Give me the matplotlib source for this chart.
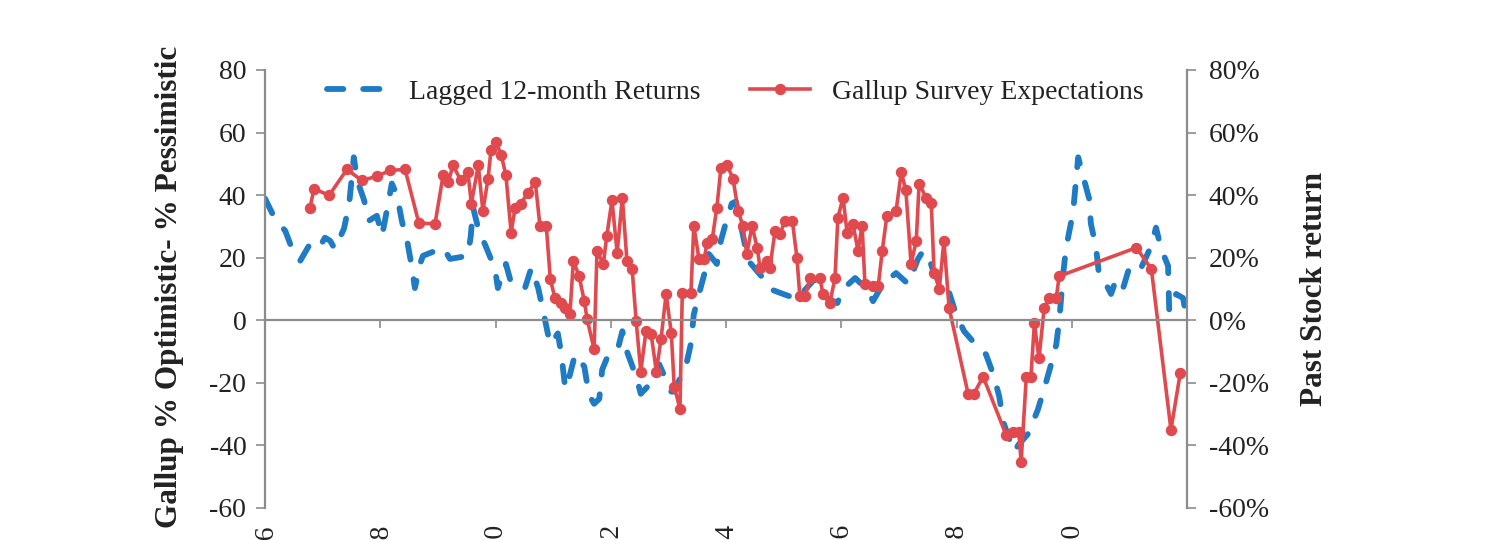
import matplotlib
matplotlib.use("Agg")
import matplotlib.pyplot as plt
import matplotlib.ticker as ticker

plt.rcParams['font.family'] = ['Liberation Serif', 'DejaVu Serif']
plt.rcParams['axes.unicode_minus'] = False

# lagged 12-month stock returns (%), decimal years
ret_x = [1996.00, 1996.17, 1996.35, 1996.47, 1996.61, 1996.78, 1996.94, 1997.04, 1997.13,
         1997.21, 1997.37, 1997.46, 1997.54, 1997.60, 1997.72, 1997.80, 1997.94, 1998.03,
         1998.12, 1998.20, 1998.29, 1998.38, 1998.46, 1998.55, 1998.60, 1998.69, 1998.74,
         1999.09, 1999.21, 1999.52, 1999.57, 1999.61, 1999.70, 1999.84, 1999.99, 2000.04,
         2000.18, 2000.27, 2000.51, 2000.62, 2000.74, 2000.82, 2000.91, 2000.96, 2001.08,
         2001.14, 2001.21, 2001.29, 2001.38, 2001.54, 2001.62, 2001.71, 2001.80, 2001.85,
         2001.93, 2002.11, 2002.20, 2002.28, 2002.44, 2002.52, 2002.72, 2002.84, 2003.05,
         2003.10, 2003.31, 2003.39, 2003.44, 2003.53, 2003.65, 2003.70, 2003.84, 2003.91,
         2004.02, 2004.10, 2004.17, 2004.36, 2004.42, 2004.64, 2004.76, 2004.99, 2005.23,
         2005.46, 2005.54, 2005.75, 2005.93, 2006.03, 2006.24, 2006.33, 2006.45, 2006.55,
         2006.72, 2006.95, 2007.16, 2007.33, 2007.42, 2007.51, 2007.61, 2007.73, 2007.82,
         2007.99, 2008.13, 2008.39, 2008.51, 2008.65, 2008.74, 2008.81, 2008.89, 2009.00,
         2009.07, 2009.24, 2009.41, 2009.52, 2009.64, 2009.73, 2009.78, 2009.85, 2009.90,
         2010.02, 2010.11, 2010.20, 2010.30, 2010.33, 2010.42, 2010.47, 2010.59, 2010.68,
         2010.77, 2010.89, 2010.99, 2011.15, 2011.20, 2011.38, 2011.46, 2011.55, 2011.67,
         2011.69, 2011.81, 2011.93, 2011.98]
ret_y = [38.9, 32.5, 28.6, 22.8, 19.0, 24.4, 23.2, 26.4, 25.4,
         22.8, 29.3, 37.3, 52.1, 44.7, 38.3, 31.8, 33.4, 27.0,
         35.7, 43.7, 39.9, 31.2, 26.0, 16.7, 10.3, 18.0, 20.6,
         23.2, 19.6, 20.6, 27.0, 36.0, 29.3, 23.2, 16.4, 10.3,
         18.0, 11.9, 10.3, 16.7, 10.3, 3.5, -4.5, -7.7, -4.2,
         -10.6, -21.9, -17.4, -10.9, -14.8, -23.8, -26.7, -25.1, -15.8,
         -12.2, -10.0, -3.5, -10.0, -18.0, -23.5, -19.6, -14.1, -22.8,
         -22.8, -14.1, -7.4, 1.9, 8.4, 16.7, 21.2, 18.0, 25.4,
         32.8, 37.3, 38.0, 21.2, 18.3, 13.5, 10.0, 8.4, 6.8,
         11.6, 13.2, 7.1, 5.5, 10.0, 13.5, 11.9, 10.3, 6.1,
         11.6, 15.1, 11.6, 19.6, 22.2, 20.6, 14.8, 13.2, 11.9,
         1.9, -3.5, -9.0, -10.9, -18.0, -24.4, -32.5, -36.7, -42.1,
         -39.9, -36.3, -28.6, -21.9, -14.1, -7.7, -0.3, 14.8, 23.2,
         34.4, 52.1, 45.7, 38.9, 30.9, 23.2, 14.8, 11.6, 8.4,
         13.2, 10.3, 16.4, 18.0, 16.7, 23.8, 29.6, 22.8, 17.4,
         2.9, 8.4, 7.1, 1.9]

# Gallup survey: % optimistic minus % pessimistic
gallup_x = [1996.78, 1996.85, 1997.11, 1997.42, 1997.68, 1997.94, 1998.17, 1998.43, 1998.67,
            1998.95, 1999.09, 1999.18, 1999.26, 1999.40, 1999.52, 1999.58, 1999.70, 1999.78,
            1999.87, 1999.92, 2000.01, 2000.10, 2000.18, 2000.27, 2000.34, 2000.44, 2000.56,
            2000.69, 2000.77, 2000.88, 2000.95, 2001.03, 2001.14, 2001.21, 2001.29, 2001.35,
            2001.45, 2001.54, 2001.59, 2001.71, 2001.76, 2001.87, 2001.93, 2002.02, 2002.11,
            2002.20, 2002.28, 2002.37, 2002.44, 2002.52, 2002.61, 2002.70, 2002.79, 2002.87,
            2002.96, 2003.05, 2003.10, 2003.20, 2003.24, 2003.39, 2003.44, 2003.53, 2003.62,
            2003.67, 2003.76, 2003.84, 2003.91, 2004.02, 2004.12, 2004.21, 2004.29, 2004.36,
            2004.45, 2004.54, 2004.59, 2004.71, 2004.76, 2004.85, 2004.94, 2005.02, 2005.15,
            2005.23, 2005.28, 2005.37, 2005.46, 2005.63, 2005.68, 2005.80, 2005.89, 2005.94,
            2006.03, 2006.10, 2006.20, 2006.29, 2006.36, 2006.41, 2006.55, 2006.64, 2006.71,
            2006.79, 2006.95, 2007.04, 2007.12, 2007.21, 2007.30, 2007.35, 2007.47, 2007.56,
            2007.61, 2007.70, 2007.78, 2007.87, 2008.20, 2008.30, 2008.46, 2008.86, 2008.98,
            2009.08, 2009.12, 2009.21, 2009.29, 2009.35, 2009.43, 2009.52, 2009.61, 2009.73,
            2009.78, 2011.12, 2011.38, 2011.72, 2011.88]
gallup_y = [36.0, 42.1, 39.9, 48.2, 44.7, 46.0, 47.9, 48.2, 31.0,
            30.9, 46.3, 44.1, 49.5, 44.7, 47.3, 37.3, 49.5, 35.0,
            45.3, 54.3, 56.9, 52.7, 46.3, 28.0, 36.0, 37.3, 40.8,
            44.1, 30.2, 30.2, 13.2, 7.1, 5.5, 4.0, 1.9, 19.0,
            14.1, 6.1, 0.3, -9.3, 22.2, 18.0, 27.0, 38.3, 21.5,
            39.2, 19.0, 16.4, -0.3, -16.4, -3.5, -4.5, -16.4, -6.1,
            8.4, -4.2, -21.2, -28.3, 8.7, 8.7, 30.2, 19.6, 19.6,
            24.8, 26.0, 36.0, 48.6, 49.5, 45.3, 35.0, 30.2, 21.2,
            30.2, 23.2, 16.7, 19.0, 16.7, 28.6, 27.7, 31.8, 31.8,
            19.9, 7.7, 7.7, 13.5, 13.5, 8.4, 5.5, 13.5, 32.8,
            39.2, 28.0, 30.9, 22.2, 30.2, 11.6, 10.9, 10.9, 22.2,
            33.4, 35.0, 47.3, 41.5, 18.0, 25.4, 43.7, 39.2, 37.6,
            15.1, 10.0, 25.4, 3.9, -23.5, -23.5, -18.0, -36.7, -35.7,
            -35.7, -45.3, -18.0, -18.0, -1.0, -12.2, 3.9, 7.1, 7.1,
            14.1, 23.2, 16.4, -35.0, -17.0]

year_ticks = [1996, 1998, 2000, 2002, 2004, 2006, 2008, 2010]

blue = '#1f7cc4'
red = '#e04a4f'
grey = '#8c8c8c'
txt = '#222222'

fig = plt.figure(figsize=(15, 5.4), dpi=100)
ax = fig.add_axes([0.1767, 0.0593, 0.6147, 0.8111])
ax2 = ax.twinx()

ax2.plot(ret_x, ret_y, color=blue, linewidth=4.2, dashes=(2.8, 3.4),
         dash_capstyle='round', label='Lagged 12-month Returns')
ax.plot(gallup_x, gallup_y, color=red, linewidth=2.6, marker='o', markersize=7.2,
        label='Gallup Survey Expectations')

# red on top of blue
ax.set_zorder(ax2.get_zorder() + 1)
ax.patch.set_visible(False)

for a in (ax, ax2):
    a.set_xlim(1996, 2012)
    a.set_ylim(-60, 80)
    a.set_yticks(range(-60, 81, 20))
    a.spines['top'].set_visible(False)

ax.spines['right'].set_visible(False)
ax.spines['bottom'].set_position(('data', 0))
ax.spines['bottom'].set_color(grey)
ax.spines['bottom'].set_linewidth(1.6)
ax.spines['left'].set_color(grey)
ax.spines['left'].set_linewidth(1.6)
ax2.spines['left'].set_visible(False)
ax2.spines['bottom'].set_visible(False)
ax2.spines['right'].set_color(grey)
ax2.spines['right'].set_linewidth(1.6)

ax.set_xticks(year_ticks)
ax.set_xticklabels([str(y) for y in year_ticks], rotation=90)
ax.tick_params(axis='x', direction='out', length=6, width=1.2, color=grey,
               pad=140, labelsize=20, labelcolor=txt)
ax.tick_params(axis='y', direction='out', length=6.5, width=1.2, color=grey,
               pad=7, labelsize=20, labelcolor=txt)
ax2.tick_params(axis='y', direction='out', length=6.5, width=1.2, color=grey,
                pad=9, labelsize=20, labelcolor=txt)
ax2.yaxis.set_major_formatter(ticker.FuncFormatter(lambda v, p: f"{v:.0f}%"))

ax.set_ylabel('Gallup % Optimistic- % Pessimistic', fontsize=22.5, fontweight='bold', color=txt)
ax.yaxis.set_label_coords(-0.088, 0.505)
ax2.set_ylabel('Past Stock return', fontsize=22.5, fontweight='bold', color=txt)
ax2.yaxis.set_label_coords(1.122, 0.5)

h1, l1 = ax2.get_legend_handles_labels()
h2, l2 = ax.get_legend_handles_labels()
ax.legend(h1 + h2, l1 + l2, loc='upper center', bbox_to_anchor=(0.51, 1.035), ncol=2,
          frameon=False, fontsize=20, handlelength=2.15, handletextpad=0.8,
          columnspacing=1.8, numpoints=1, labelcolor=txt)

fig.savefig('out.png', dpi=100)
